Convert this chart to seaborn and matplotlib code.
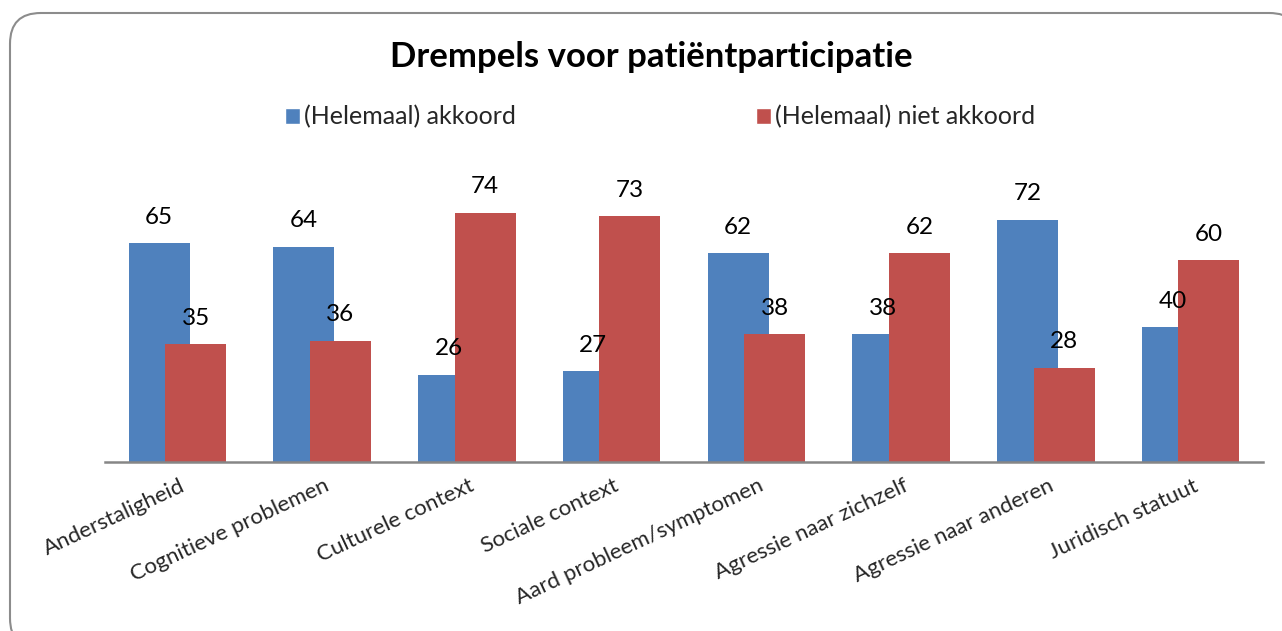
import matplotlib
matplotlib.use("Agg")
import matplotlib.pyplot as plt
import matplotlib.transforms as mtransforms
from matplotlib.patches import FancyBboxPatch
import seaborn as sns
import pandas as pd

categories = ["Anderstaligheid", "Cognitieve problemen", "Culturele context", "Sociale context",
              "Aard probleem/symptomen", "Agressie naar zichzelf", "Agressie naar anderen",
              "Juridisch statuut"]
akkoord = [65, 64, 26, 27, 62, 38, 72, 40]
niet_akkoord = [35, 36, 74, 73, 38, 62, 28, 60]
series_names = ["(Helemaal) akkoord", "(Helemaal) niet akkoord"]
title = "Drempels voor patiëntparticipatie"

BLUE = "#4F81BD"
RED = "#C0504D"

sns.set_theme(style="white")
plt.rcParams["font.family"] = ["Lato", "DejaVu Sans"]

df = pd.DataFrame({
    "categorie": categories * 2,
    "waarde": akkoord + niet_akkoord,
    "reeks": [series_names[0]] * len(categories) + [series_names[1]] * len(categories),
})

W, H = 1282, 631
fig = plt.figure(figsize=(W / 100, H / 100), dpi=100)

# rounded border with shadow
shadow = FancyBboxPatch((12 / W, -20 / H), 1300 / W - 12 / W, (H - 15) / H - (-20 / H),
                        boxstyle="round,pad=0,rounding_size=0.03", transform=fig.transFigure,
                        facecolor="#d8d8d8", edgecolor="none", zorder=0, mutation_aspect=W / H)
border = FancyBboxPatch((10 / W, -18 / H), 1300 / W - 10 / W, (H - 13) / H - (-18 / H),
                        boxstyle="round,pad=0,rounding_size=0.024", transform=fig.transFigure,
                        facecolor="white", edgecolor="#8c8c8c", linewidth=1.5, zorder=1,
                        mutation_aspect=W / H)
fig.patches.append(shadow)
fig.patches.append(border)

ax = fig.add_axes([105 / W, 1 - 462 / H, (1263 - 105) / W, (462 - 192.8) / H])
ax.set_zorder(2)
ax.patch.set_alpha(0)

sns.barplot(data=df, x="categorie", y="waarde", hue="reeks", palette=[BLUE, RED],
            saturation=1, width=0.8, ax=ax, legend=True)

bar_w = 0.42
offsets = [-0.126, 0.126]
for cont, off, vals in zip(ax.containers, offsets, [akkoord, niet_akkoord]):
    for i, (patch, v) in enumerate(zip(cont.patches, vals)):
        patch.set_x(i + off - bar_w / 2)
        patch.set_width(bar_w)
        patch.set_edgecolor("none")
        ax.annotate(f"{v}", xy=(i + off, v), xytext=(0, 26), textcoords="offset pixels",
                    ha="center", va="center", fontsize=17.5, color="black", annotation_clip=False)

handles, labels = ax.get_legend_handles_labels()
ax.get_legend().remove()
fig.legend(handles, labels, ncol=2, loc="center", bbox_to_anchor=(660 / W, 1 - 117 / H),
           frameon=False, fontsize=18, handlelength=0.6, handleheight=0.6,
           handletextpad=0.16, columnspacing=9.6, borderpad=0)

ax.set_xlim(-0.5, len(categories) - 0.5)
ax.set_ylim(0, 80)
ax.set_xlabel("")
ax.set_ylabel("")
ax.set_yticks([])
for s in ["top", "right", "left"]:
    ax.spines[s].set_visible(False)
ax.spines["bottom"].set_color("#868686")
ax.spines["bottom"].set_linewidth(1.8)
ax.tick_params(axis="x", length=0, pad=10)
ax.set_xticks(range(len(categories)))
ax.set_xticklabels(categories, rotation=25, ha="right", va="top",
                   rotation_mode="anchor", fontsize=16)
shift = mtransforms.ScaledTranslation(2 / 100, 0, fig.dpi_scale_trans)
for lbl in ax.get_xticklabels():
    lbl.set_transform(lbl.get_transform() + shift)

fig.text(651 / W, 1 - 57 / H, title, ha="center", va="center", fontsize=25,
         fontweight="bold", color="black")

fig.savefig("out.png", dpi=100)
